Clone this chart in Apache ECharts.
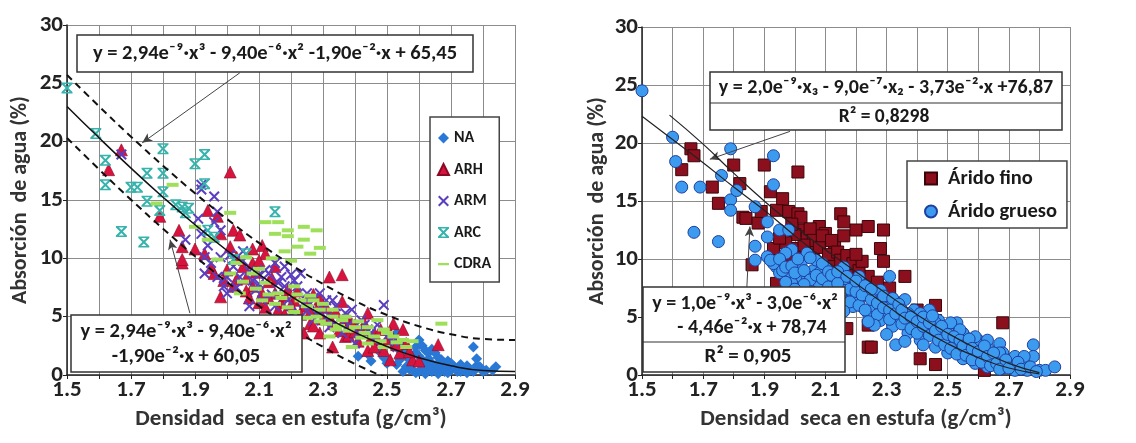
<!DOCTYPE html>
<html>
<head>
<meta charset="utf-8">
<script src="https://cdn.jsdelivr.net/npm/echarts@6/dist/echarts.min.js"></script>
<style>
  html, body { margin: 0; padding: 0; background: #fff; }
  #chart { width: 1136px; height: 443px; }
</style>
</head>
<body>
<div id="chart"></div>
<script>
// ---- left panel: points per aggregate type [density, absorption] ----
const na = [[2.41,1.6],[2.44,1.8],[2.48,1.9],[2.52,2.4],[2.53,3.6],[2.54,2.1],[2.54,1.3],[2.56,1.9],[2.56,0.7],[2.57,1.3],
  [2.58,0.4],[2.59,1.9],[2.59,2.4],[2.60,3.0],[2.60,0.3],[2.61,1.3],[2.62,2.1],[2.62,0.4],[2.63,1.9],[2.63,0.7],
  [2.64,1.0],[2.64,0.3],[2.65,1.9],[2.66,1.0],[2.66,0.4],[2.67,1.3],[2.68,1.0],[2.68,0.3],[2.70,0.7],[2.70,0.4],
  [2.71,0.7],[2.72,0.3],[2.73,0.9],[2.74,0.4],[2.76,0.4],[2.77,2.4],[2.78,1.4],[2.79,0.7],[2.81,0.4],[2.84,0.7],
  [2.50,1.0],[2.55,0.3],[2.61,0.7],[2.69,0.2],[2.75,0.2],[2.45,1.2],[2.49,1.5],[2.51,2.8],[2.55,2.6],[2.57,1.7],
  [2.58,0.9],[2.60,1.6],[2.61,2.5],[2.62,1.0],[2.63,1.4],[2.64,2.2],[2.65,0.6],[2.66,1.5],[2.67,0.8],[2.69,1.2],
  [2.70,1.0],[2.72,0.6],[2.73,0.3],[2.75,0.8],[2.77,0.3],[2.78,0.8],[2.80,0.3],[2.83,0.4],[2.53,0.9],[2.57,0.5],
  [2.62,0.1],[2.66,0.1],[2.59,0.2],[2.68,0.6]];
const arh = [[1.67,19.3],[1.63,17.6],[1.79,13.6],[1.85,12.4],[1.86,11.0],[1.86,9.6],[1.86,9.9],[2.01,17.4],[1.94,14.1],[1.97,13.6],
  [1.98,12.1],[2.02,12.4],[1.98,6.7],[1.93,10.4],[1.96,8.7],[2.01,11.0],[2.03,10.1],[2.05,9.3],[2.08,9.6],[2.11,11.1],
  [2.12,10.4],[2.15,9.3],[2.08,7.6],[2.11,7.0],[2.15,7.0],[2.19,7.3],[2.21,6.4],[2.24,5.9],[2.28,5.6],[2.32,8.4],
  [2.36,8.6],[2.36,6.3],[2.32,5.0],[2.38,4.7],[2.44,5.3],[2.42,3.9],[2.33,2.4],[2.46,3.6],[2.49,2.1],[2.52,4.4],
  [2.55,3.9],[2.56,2.7],[2.58,1.3],[2.66,2.6],[2.54,1.9],[2.51,1.3],[2.44,2.1],[2.02,7.6],[2.20,5.0],[2.26,4.4],
  [2.29,3.6],[2.37,3.3],[2.24,3.6],[2.06,8.3],[2.13,8.0],[2.17,6.2],[2.27,6.9],[2.30,6.0],[2.40,4.3],[2.47,3.0],
  [2.00,9.0],[2.03,8.2],[2.06,7.2],[2.09,8.8],[2.10,6.2],[2.13,6.6],[2.14,8.3],[2.16,5.6],[2.18,6.8],[2.20,6.0],
  [2.22,7.2],[2.23,5.2],[2.25,6.4],[2.26,5.4],[2.27,4.2],[2.29,6.5],[2.30,4.8],[2.31,5.8],[2.33,4.4],[2.34,5.4],
  [2.35,3.8],[2.37,4.9],[2.38,3.4],[2.39,4.4],[2.40,3.7],[2.41,2.9],[2.43,4.4],[2.45,3.2],[2.46,2.4],[2.48,3.9],
  [2.50,2.8],[2.51,3.6],[2.53,2.6],[2.57,2.0],[2.60,1.2],[2.21,4.6],[2.18,5.2],[2.12,5.8],[2.07,6.6],[1.99,8.1],
  [1.95,9.2],[1.90,10.8],[2.04,12.0],[2.08,10.8],[2.10,9.8]];
const arm = [[1.67,18.9],[1.92,15.9],[1.92,16.3],[1.96,15.3],[1.97,14.0],[1.91,13.4],[1.92,12.1],[1.96,13.1],[1.98,12.4],[1.93,10.1],
  [1.95,9.6],[1.93,8.7],[1.97,8.4],[1.99,7.6],[2.00,7.0],[2.02,9.3],[2.04,8.4],[2.08,8.1],[2.12,9.0],[2.15,9.6],
  [2.18,9.3],[2.21,8.1],[2.23,8.7],[2.18,7.6],[2.25,7.0],[2.29,7.0],[2.31,6.4],[2.34,5.9],[2.37,5.3],[2.42,4.7],
  [2.49,6.0],[2.44,3.9],[2.46,3.0],[2.09,7.3],[2.11,6.4],[2.15,5.9],[2.20,5.3],[2.27,4.7],[2.32,4.1],[2.36,3.6],
  [2.40,2.7],[1.87,11.6],[2.05,10.6],[2.10,8.6],[2.26,6.1],[2.05,9.8],[2.07,8.9],[2.10,7.8],[2.13,8.7],[2.14,6.9],
  [2.17,8.4],[2.19,6.4],[2.22,7.6],[2.24,6.2],[2.27,6.6],[2.28,5.2],[2.30,5.6],[2.33,6.4],[2.35,4.8],[2.38,4.3],
  [2.39,5.6],[2.41,3.6],[2.43,4.3],[2.45,3.6],[2.47,4.3],[2.50,3.3],[2.52,2.9],[2.01,10.3],[1.98,10.1],[1.94,11.1],
  [2.00,8.4],[2.03,7.5],[2.07,5.9],[2.16,7.9],[2.20,8.6],[2.25,5.5],[2.31,4.9]];
const arc = [[1.50,24.6],[1.59,20.7],[1.62,18.4],[1.62,16.3],[1.67,12.3],[1.70,16.1],[1.72,16.1],[1.75,17.3],[1.75,14.9],[1.74,11.4],
  [1.80,19.4],[1.80,17.3],[1.80,15.7],[1.79,14.1],[1.86,14.4],[1.88,14.3],[1.90,18.1],[1.93,18.9],[1.93,16.4],[1.94,12.4],
  [2.15,14.0],[2.02,9.9],[2.06,10.4],[1.87,13.9],[1.84,14.6],[1.96,11.8]];
const cdra = [[1.83,16.3],[1.78,14.7],[2.01,13.9],[2.12,13.1],[2.16,13.1],[2.19,12.4],[2.24,12.7],[2.28,12.4],[2.29,10.9],[2.19,11.9],
  [2.15,12.1],[2.24,11.6],[2.67,4.4],[2.06,10.1],[2.08,8.7],[2.12,7.9],[2.16,7.0],[2.21,7.6],[2.23,6.4],[2.27,6.4],
  [2.29,5.6],[2.33,5.0],[2.36,4.7],[2.40,4.1],[2.43,3.6],[2.47,4.7],[2.49,3.9],[2.52,3.3],[2.44,2.7],[2.39,2.4],
  [2.32,3.3],[2.25,4.9],[2.21,5.4],[2.15,6.1],[2.11,6.4],[2.04,7.0],[2.01,8.7],[1.97,9.9],[2.29,4.6],[2.34,3.9],
  [2.49,2.4],[2.55,3.0],[1.94,11.6],[1.90,12.7],[2.05,8.0],[2.09,7.4],[2.13,6.9],[2.17,6.6],[2.19,5.8],[2.22,6.9],
  [2.25,5.9],[2.26,6.8],[2.28,5.0],[2.30,6.1],[2.31,4.4],[2.33,5.6],[2.35,4.2],[2.37,5.0],[2.38,3.8],[2.41,4.6],
  [2.42,3.2],[2.44,4.1],[2.46,3.3],[2.48,2.9],[2.50,3.6],[2.53,2.8],[2.56,2.4],[2.58,2.9],[2.10,9.1],[2.14,10.0],
  [2.20,9.8],[2.03,9.6],[2.26,10.4],[2.22,11.0],[2.18,10.6]];

// fitted curves of the left panel, read at each 0.1 g/cm3
const fitX = [1.5,1.6,1.7,1.8,1.9,2.0,2.1,2.2,2.3,2.4,2.5,2.6,2.7,2.8,2.9];
const fitUpper = [25.72,23.03,20.43,17.94,15.58,13.37,11.32,9.46,7.80,6.35,5.14,4.18,3.49,3.09,3.00];
const fitMid = [23.02,20.33,17.73,15.24,12.88,10.67,8.62,6.76,5.10,3.65,2.44,1.48,0.79,0.39,0.30];
const fitLower = [20.32,17.63,15.03,12.54,10.18,7.97,5.92,4.06,2.40,0.95,-0.26];

// ---- right panel: fine vs coarse aggregate ----
const fino = [[1.66,19.5],[1.67,18.9],[1.63,17.7],[1.73,16.2],[1.75,14.8],[1.80,18.1],[1.82,16.5],[1.83,13.6],[1.84,13.5],[1.88,13.1],
  [1.89,14.1],[1.90,18.1],[1.92,15.8],[1.94,14.2],[1.96,15.2],[1.98,14.1],[2.01,17.5],[2.01,13.9],[2.03,12.5],[2.04,11.9],
  [2.01,10.9],[2.06,10.8],[2.08,12.8],[2.10,12.2],[2.13,11.1],[2.15,13.9],[2.16,13.2],[2.16,12.0],[2.20,12.5],[2.24,12.8],
  [2.29,12.5],[2.28,10.9],[2.29,9.8],[2.36,8.5],[2.46,6.0],[2.46,4.7],[2.68,4.5],[1.93,10.9],[1.95,9.6],[1.86,9.5],
  [1.99,9.9],[2.04,10.2],[2.10,9.3],[2.13,9.6],[2.16,9.3],[2.18,8.8],[2.24,8.5],[2.24,2.4],[2.25,2.4],[2.24,4.3],
  [2.17,4.0],[2.41,1.4],[2.46,0.9],[2.62,0.4],[2.55,2.4],[2.39,5.3],[1.97,7.3],[1.99,6.5],[1.94,7.9],[2.07,11.3],
  [2.02,13.6],[2.05,12.6],[2.06,11.6],[2.08,11.0],[2.09,12.0],[2.11,10.4],[2.12,11.6],[2.14,10.6],[2.15,9.9],[2.17,10.3],
  [2.19,9.6],[2.21,9.0],[2.03,11.2],[2.00,12.1],[1.97,11.4],[1.95,11.8],[1.99,13.0],[2.22,9.8],[2.31,7.5],[2.40,5.6],
  [2.50,4.1],[2.55,3.2],[2.58,2.6],[2.44,3.6],[2.34,6.2],[2.27,8.0],[2.20,10.4]];
const grueso = [[1.50,24.5],[1.60,20.5],[1.61,18.4],[1.63,16.2],[1.69,16.2],[1.67,12.3],[1.75,11.5],[1.76,17.2],[1.79,19.5],[1.79,15.1],
  [1.79,14.2],[1.81,15.9],[1.87,14.5],[1.87,11.1],[1.87,9.9],[1.93,18.9],[1.93,16.4],[1.91,13.2],[1.91,11.9],[1.91,10.2],
  [1.94,9.3],[1.95,12.5],[1.98,12.5],[1.99,10.8],[2.02,9.6],[2.04,10.5],[2.06,9.0],[2.07,9.9],[2.10,9.3],[2.13,8.5],
  [2.16,9.3],[2.17,7.6],[2.19,7.9],[2.21,8.5],[2.22,7.3],[2.26,7.0],[2.28,7.3],[2.31,8.5],[2.30,6.5],[2.33,5.9],
  [2.36,6.5],[2.39,5.6],[2.41,4.7],[2.44,5.6],[2.47,4.7],[2.50,3.9],[2.53,4.5],[2.55,3.6],[2.57,2.7],[2.60,3.0],
  [2.63,2.4],[2.67,2.7],[2.68,1.9],[2.71,1.3],[2.74,1.0],[2.78,2.6],[2.78,1.6],[2.76,0.4],[2.80,0.4],[2.82,0.4],
  [2.85,0.7],[2.33,2.6],[2.24,5.3],[2.19,5.9],[2.15,6.5],[2.10,7.0],[2.06,7.6],[2.02,8.2],[1.98,8.5],[1.95,8.8],
  [1.99,7.9],[2.04,8.5],[2.08,7.9],[2.13,7.3],[2.17,6.7],[2.21,6.5],[2.26,5.9],[2.30,5.3],[2.34,4.7],[2.39,4.2],
  [2.43,3.9],[2.48,3.3],[2.52,2.7],[2.57,2.2],[2.61,1.9],[2.65,1.3],[2.70,1.0],[2.28,4.7],[2.32,4.2],[2.37,3.6],
  [2.41,3.0],[2.46,2.4],[2.50,1.9],[2.55,1.4],[2.59,1.0],[2.63,0.7],[2.68,0.6],[2.72,0.4],[2.16,8.1],[2.19,7.0],
  [2.24,7.0],[2.28,6.5],[2.32,6.2],[2.37,5.3],[2.41,5.3],[2.46,4.5],[2.51,4.5],[2.54,3.9],[2.59,3.3],[2.63,3.0],
  [2.67,1.9],[2.72,1.6],[2.08,8.8],[2.12,7.9],[2.16,7.3],[2.20,6.7],[2.75,1.6],[2.59,1.9],[1.93,9.6],[1.97,10.5],[1.96,9.0],
  [1.92,9.9],[1.95,10.0],[1.97,9.3],[1.99,9.4],[2.00,8.8],[2.01,10.0],[2.03,9.0],[2.05,8.2],[2.05,10.1],[2.07,8.6],
  [2.09,8.3],[2.09,9.6],[2.11,8.9],[2.11,7.6],[2.12,8.6],[2.14,7.9],[2.14,8.9],[2.15,7.0],[2.17,8.5],[2.18,7.4],
  [2.18,6.3],[2.20,7.2],[2.20,8.1],[2.21,6.0],[2.22,6.9],[2.23,7.7],[2.23,5.6],[2.25,6.5],[2.25,7.4],[2.27,6.2],
  [2.27,5.2],[2.29,6.8],[2.29,5.8],[2.31,5.6],[2.31,4.8],[2.32,6.6],[2.33,5.3],[2.34,6.1],[2.35,4.4],[2.35,5.6],
  [2.36,4.9],[2.38,5.0],[2.38,4.0],[2.40,4.6],[2.40,3.6],[2.42,4.2],[2.42,5.0],[2.44,3.4],[2.44,4.5],[2.45,5.1],
  [2.46,3.8],[2.47,3.0],[2.48,4.2],[2.49,2.6],[2.50,3.5],[2.51,2.3],[2.52,3.3],[2.53,1.8],[2.54,3.0],[2.55,2.5],
  [2.56,1.7],[2.57,3.1],[2.58,2.3],[2.58,1.3],[2.60,2.0],[2.61,1.1],[2.62,2.5],[2.63,1.6],[2.64,0.8],[2.65,1.9],
  [2.66,1.0],[2.67,0.5],[2.69,1.3],[2.70,0.6],[2.73,1.1],[2.74,0.5],[2.77,0.7],[2.79,0.3],[2.03,7.8],[2.06,7.1],
  [1.97,8.0],[2.00,7.4],[2.08,6.7],[2.10,6.3],[2.12,5.9],[2.16,5.5],[2.30,3.5],[2.26,4.3],[2.36,2.9],[2.42,2.6],[2.24,4.6]];
const finoFit = [[1.59,22.4],[1.7,19.9],[1.8,17.4],[1.9,15.0],[2.0,12.8],[2.1,10.8],[2.2,8.9],[2.3,7.0],[2.4,5.2],[2.5,3.6],[2.6,2.2],[2.7,1.0],[2.8,0.2]];
const gruesoFit = [[1.5,22.3],[1.6,20.3],[1.7,18.3],[1.8,16.2],[1.9,14.2],[2.0,12.0],[2.1,9.9],[2.2,7.9],[2.3,6.0],[2.4,4.2],[2.5,2.7],[2.6,1.5],[2.7,0.6],[2.8,0.1]];

const FONT = 'Carlito, "Liberation Sans", Arial, sans-serif';
const pair = (ys) => ys.map((y, i) => [fitX[i], y]);

function xAxisFor(grid) {
  return {
    gridIndex: grid, type: 'value', min: 1.5, max: 2.9, interval: 0.1,
    name: 'Densidad  seca en estufa (g/cm³)', nameLocation: 'middle', nameGap: 33,
    nameTextStyle: { fontFamily: FONT, fontSize: 23, fontWeight: 'bold', color: '#333' },
    axisLine: { show: true, onZero: false, lineStyle: { color: '#222', width: 1.5 } },
    axisTick: { show: true, length: 4, lineStyle: { color: '#222' } },
    axisLabel: {
      fontFamily: FONT, fontSize: 23, fontWeight: 'bold', color: '#222', margin: 4,
      formatter: (v) => (Math.round(v * 10) % 2 === 1 ? v.toFixed(1) : '')
    },
    splitLine: { show: true, lineStyle: { color: '#8c8c8c', width: 1 } }
  };
}
function yAxisFor(grid, gap) {
  return {
    gridIndex: grid, type: 'value', min: 0, max: 30, interval: 5,
    name: 'Absorción  de agua (%)', nameLocation: 'middle', nameGap: gap,
    nameTextStyle: { fontFamily: FONT, fontSize: 22, fontWeight: 'bold', color: '#333' },
    axisLine: { show: true, onZero: false, lineStyle: { color: '#222', width: 1.5 } },
    axisTick: { show: true, length: 4, lineStyle: { color: '#222' } },
    axisLabel: { fontFamily: FONT, fontSize: 23, fontWeight: 'bold', color: '#222', margin: 4 },
    splitLine: { show: true, lineStyle: { color: '#8c8c8c', width: 1 } }
  };
}

const X_PATH = 'path://M1.3,0L5,3.7L8.7,0L10,1.3L6.3,5L10,8.7L8.7,10L5,6.3L1.3,10L0,8.7L3.7,5L0,1.3Z';
const STAR_PATH = 'path://M1.3,0L5,3.7L8.7,0L10,1.3L6.3,5L10,8.7L8.7,10L5,6.3L1.3,10L0,8.7L3.7,5L0,1.3Z M0,0L10,0L10,1.4L0,1.4Z M0,8.6L10,8.6L10,10L0,10Z';
const DASH_ICON = 'path://M0,0L0.01,0L0,0.01Z M0,4L10,4L10,6.2L0,6.2Z M9.99,10L10,10L10,9.99Z';

function arrowLine(from, to) {
  return [{ coord: from }, { coord: to }];
}
const arrowStyle = {
  silent: true, symbol: ['none', 'arrow'], symbolSize: [7, 10],
  label: { show: false },
  lineStyle: { color: '#444', width: 1, type: 'solid' }
};

function box(x, y, w, h, dividers) {
  const els = [{
    type: 'rect', z: 100, shape: { x: x, y: y, width: w, height: h },
    style: { fill: '#fff', stroke: '#333', lineWidth: 1.5 }
  }];
  (dividers || []).forEach(function (dy) {
    els.push({ type: 'line', z: 101, shape: { x1: x, y1: dy, x2: x + w, y2: dy }, style: { stroke: '#333', lineWidth: 1.2 } });
  });
  return els;
}
function label(text, x, y, size) {
  return {
    type: 'text', z: 102, x: x, y: y,
    style: { text: text, font: 'bold ' + size + 'px ' + FONT, fill: '#1a1a1a', align: 'center', verticalAlign: 'middle' }
  };
}

const chart = echarts.init(document.getElementById('chart'));
chart.setOption({
  animation: false,
  backgroundColor: '#fff',
  grid: [
    { left: 67, top: 25, width: 448, height: 350 },
    { left: 642, top: 27, width: 428, height: 348 }
  ],
  xAxis: [xAxisFor(0), xAxisFor(1)],
  yAxis: [yAxisFor(0, 36), yAxisFor(1, 34)],
  legend: [
    {
      data: ['NA', 'ARH', 'ARM', 'ARC', { name: 'CDRA', icon: DASH_ICON }], orient: 'vertical', left: 430, top: 117,
      padding: [13, 8, 10, 7], itemGap: 15.5, itemWidth: 11, itemHeight: 11,
      backgroundColor: '#fff', borderColor: '#444', borderWidth: 1.5, z: 50,
      textStyle: { fontFamily: FONT, fontSize: 16, fontWeight: 'bold', color: '#1a1a1a' }
    },
    {
      data: ['Árido fino', 'Árido grueso'], orient: 'vertical', left: 907, top: 161,
      padding: [7, 10, 6, 17], itemGap: 12, itemWidth: 12, itemHeight: 12,
      backgroundColor: '#fff', borderColor: '#444', borderWidth: 1.5, z: 50,
      textStyle: { fontFamily: FONT, fontSize: 20.5, fontWeight: 'bold', color: '#1a1a1a', padding: [0, 0, 0, 6] }
    }
  ],
  graphic: [].concat(
    box(77, 35, 396, 37),
    [label('y = 2,94e⁻⁹·x³ - 9,40e⁻⁶·x² -1,90e⁻²·x + 65,45', 275, 54, 20.5)],
    box(71, 315, 231, 57),
    [label('y = 2,94e⁻⁹·x³ - 9,40e⁻⁶·x²', 186, 332, 20.5), label('-1,90e⁻²·x + 60,05', 186, 357, 20.5)],
    box(710, 72, 352, 58, [103]),
    [label('y = 2,0e⁻⁹·x₃ - 9,0e⁻⁷·x₂ - 3,73e⁻²·x +76,87', 886, 88, 20), label('R² = 0,8298', 884, 117, 19.5)],
    box(643, 287, 202, 85, [342]),
    [label('y = 1,0e⁻⁹·x³ - 3,0e⁻⁶·x²', 745, 304, 20), label('- 4,46e⁻²·x + 78,74', 752, 328, 20), label('R² = 0,905', 748, 357, 21)]
  ),
  series: [
    { name: 'NA', type: 'scatter', xAxisIndex: 0, yAxisIndex: 0, data: na, symbol: 'diamond', symbolSize: 11,
      itemStyle: { color: '#2a78d6', opacity: 1 } },
    { name: 'ARH', type: 'scatter', xAxisIndex: 0, yAxisIndex: 0, data: arh, symbol: 'triangle', symbolSize: 12,
      itemStyle: { color: '#d8143e', borderColor: '#8a0a26', borderWidth: 0.6, opacity: 1 } },
    { name: 'ARM', type: 'scatter', xAxisIndex: 0, yAxisIndex: 0, data: arm, symbol: X_PATH, symbolSize: 11,
      itemStyle: { color: '#5b3fc0', opacity: 1 } },
    { name: 'ARC', type: 'scatter', xAxisIndex: 0, yAxisIndex: 0, data: arc, symbol: STAR_PATH, symbolSize: 11,
      itemStyle: { color: '#36b3ac', opacity: 1 } },
    { name: 'CDRA', type: 'scatter', xAxisIndex: 0, yAxisIndex: 0, data: cdra, symbol: 'rect', symbolSize: [12, 4],
      itemStyle: { color: '#9ee05a', opacity: 1 } },
    { name: 'fitUpper', type: 'line', xAxisIndex: 0, yAxisIndex: 0, data: pair(fitUpper), smooth: true, symbol: 'none',
      lineStyle: { color: '#111', width: 2, type: [7, 5] }, z: 5 },
    { name: 'fitLower', type: 'line', xAxisIndex: 0, yAxisIndex: 0, data: pair(fitLower), smooth: true, symbol: 'none',
      lineStyle: { color: '#111', width: 2, type: [7, 5] }, z: 5 },
    { name: 'fitMid', type: 'line', xAxisIndex: 0, yAxisIndex: 0, data: pair(fitMid), smooth: true, symbol: 'none',
      lineStyle: { color: '#111', width: 1.5 }, z: 5,
      markLine: Object.assign({ data: [arrowLine([2.04, 25.9], [1.735, 19.9]), arrowLine([1.884, 5.3], [1.822, 11.6])] }, arrowStyle) },

    { name: 'Árido fino', type: 'scatter', xAxisIndex: 1, yAxisIndex: 1, data: fino, symbol: 'rect', symbolSize: 12,
      itemStyle: { color: '#8c0f1e', borderColor: '#3a0509', borderWidth: 1, opacity: 1 } },
    { name: 'Árido grueso', type: 'scatter', xAxisIndex: 1, yAxisIndex: 1, data: grueso, symbol: 'circle', symbolSize: 12,
      itemStyle: { color: '#3d9bef', borderColor: '#1e3f9e', borderWidth: 1, opacity: 1 } },
    { name: 'finoFit', type: 'line', xAxisIndex: 1, yAxisIndex: 1, data: finoFit, smooth: true, symbol: 'none',
      lineStyle: { color: '#222', width: 1.2 }, z: 5 },
    { name: 'gruesoFit', type: 'line', xAxisIndex: 1, yAxisIndex: 1, data: gruesoFit, smooth: true, symbol: 'none',
      lineStyle: { color: '#222', width: 1.2 }, z: 5,
      markLine: Object.assign({ data: [arrowLine([1.984, 21.0], [1.722, 18.6]), arrowLine([1.843, 7.6], [1.853, 12.8])] }, arrowStyle) }
  ]
});
</script>
</body>
</html>
